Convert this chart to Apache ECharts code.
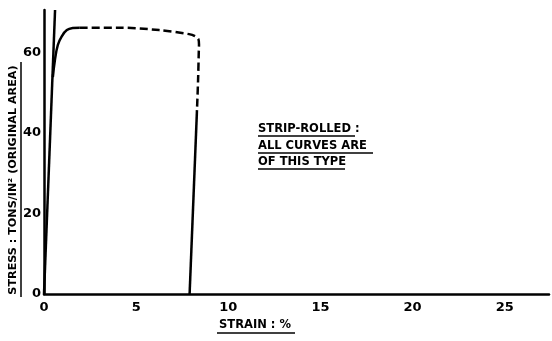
<!DOCTYPE html>
<html>
<head>
<meta charset="utf-8">
<script src="https://cdn.jsdelivr.net/npm/echarts@6/dist/echarts.min.js"></script>
<style>html,body{margin:0;padding:0;background:#fff}#c{width:552px;height:341px}</style>
</head>
<body>
<div id="c"></div>
<script>
// Data
const elasticStrain = [0, 0.6];
const elasticStress = [0, 70.6];
const yieldStrain = [0.48, 0.59, 0.75, 0.97, 1.24, 1.56, 1.94];
const yieldStress = [53.9, 58.1, 61.9, 64.1, 65.6, 66.1, 66.2];
const plateauStrain = [1.94, 4.1, 6.25, 7.87, 8.19, 8.38, 8.41, 8.4, 8.36, 8.3];
const plateauStress = [66.2, 66.2, 65.6, 64.6, 64.1, 63.3, 62.0, 60.6, 53.2, 45.7];
const unloadStrain = [8.3, 7.9];
const unloadStress = [45.7, 0];
const xTicks = [0, 5, 10, 15, 20, 25];
const yTicks = [0, 20, 40, 60];
const xName = 'STRAIN : %';
const yName = 'STRESS : TONS/IN\u00B2 (ORIGINAL AREA)';
const noteLines = ['STRIP-ROLLED :', 'ALL CURVES ARE', 'OF THIS TYPE'];

const pairs = (a, b) => a.map((v, i) => [v, b[i]]);
const txt = "bold 11.5px 'DejaVu Sans'";
const ytxt = "bold 11.2px 'DejaVu Sans'";

const chart = echarts.init(document.getElementById('c'));
const lineBase = {type: 'line', symbol: 'none', silent: true, animation: false};
const tickLabel = {color: '#000', fontFamily: 'DejaVu Sans', fontWeight: 'bold', fontSize: 13};
chart.setOption({
  backgroundColor: '#fff',
  animation: false,
  grid: {left: 44, right: 0, top: 10, bottom: 47},
  xAxis: {
    type: 'value', min: 0, max: 27.4, interval: 5,
    axisLine: {lineStyle: {color: '#000', width: 2.5}},
    axisTick: {show: false}, splitLine: {show: false},
    axisLabel: Object.assign({}, tickLabel, {margin: 7,
      formatter: v => xTicks.includes(v) ? String(v) : ''})
  },
  yAxis: {
    type: 'value', min: 0, max: 70.6, interval: 20,
    axisLine: {show: true, lineStyle: {color: '#000', width: 2.5}},
    axisTick: {show: false}, splitLine: {show: false},
    axisLabel: Object.assign({}, tickLabel, {margin: 3,
      formatter: v => yTicks.includes(v) ? String(v) : ''})
  },
  series: [
    Object.assign({}, lineBase, {data: pairs(elasticStrain, elasticStress), lineStyle: {color: '#000', width: 2.5}}),
    Object.assign({}, lineBase, {data: pairs(yieldStrain, yieldStress), smooth: 0.4, lineStyle: {color: '#000', width: 2.5}}),
    Object.assign({}, lineBase, {data: pairs(plateauStrain, plateauStress), smooth: 0.3, lineStyle: {color: '#000', width: 2.5, type: [8, 4]}}),
    Object.assign({}, lineBase, {data: pairs(unloadStrain, unloadStress), lineStyle: {color: '#000', width: 2.5}})
  ],
  graphic: [
    {type: 'text', x: 255, y: 325, style: {text: xName, font: txt, fill: '#000', align: 'center', verticalAlign: 'middle'}},
    {type: 'line', shape: {x1: 217, y1: 333, x2: 295, y2: 333}, style: {stroke: '#000', lineWidth: 1.5}},
    {type: 'text', x: 13, y: 180, rotation: Math.PI / 2, style: {text: yName, font: ytxt, fill: '#000', align: 'center', verticalAlign: 'middle'}},
    {type: 'line', shape: {x1: 21, y1: 62, x2: 21, y2: 297}, style: {stroke: '#000', lineWidth: 1.5}},
    {type: 'text', x: 258, y: 129, style: {text: noteLines[0], font: txt, fill: '#000', align: 'left', verticalAlign: 'middle'}},
    {type: 'line', shape: {x1: 258, y1: 136, x2: 355, y2: 136}, style: {stroke: '#000', lineWidth: 1.5}},
    {type: 'text', x: 258, y: 146, style: {text: noteLines[1], font: txt, fill: '#000', align: 'left', verticalAlign: 'middle'}},
    {type: 'line', shape: {x1: 258, y1: 153, x2: 373, y2: 153}, style: {stroke: '#000', lineWidth: 1.5}},
    {type: 'text', x: 258, y: 162, style: {text: noteLines[2], font: txt, fill: '#000', align: 'left', verticalAlign: 'middle'}},
    {type: 'line', shape: {x1: 258, y1: 169, x2: 345, y2: 169}, style: {stroke: '#000', lineWidth: 1.5}}
  ]
});
</script>
</body>
</html>
